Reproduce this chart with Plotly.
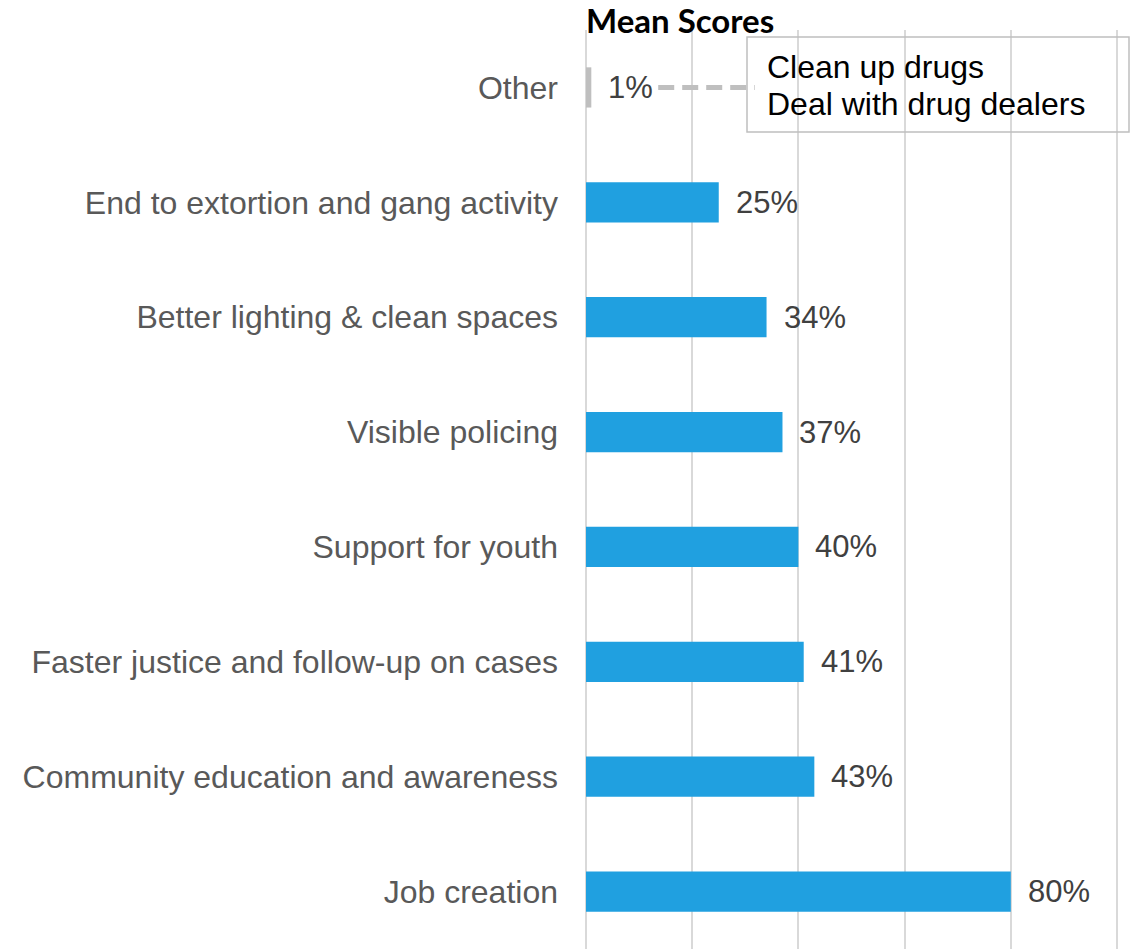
import plotly.graph_objects as go

categories = ["Other", "End to extortion and gang activity", "Better lighting & clean spaces",
              "Visible policing", "Support for youth", "Faster justice and follow-up on cases",
              "Community education and awareness", "Job creation"]
values = [1, 25, 34, 37, 40, 41, 43, 80]
bar_colors = ["#BFBFBF"] + ["#20A0E0"] * 7
other_note = ["Clean up drugs", "Deal with drug dealers"]
title_text = "Mean Scores"

W, H = 1133, 949
ML, MR, MT, MB = 586, 12, 30, 0
pw = W - ML - MR
ph = H - MT - MB

def px_x(p):
    return (p - ML) / pw

def px_y(p):
    return (H - MB - p) / ph

fig = go.Figure()
fig.add_trace(go.Bar(
    x=values, y=categories, orientation="h",
    marker=dict(color=bar_colors, line=dict(width=0)),
    width=0.35, hoverinfo="skip",
))

for v, c in zip(values, categories):
    fig.add_annotation(x=v, y=c, xref="x", yref="y", text=f"{v}%",
                       showarrow=False, xanchor="left", yanchor="middle", xshift=15,
                       font=dict(family="Liberation Sans, Arial", size=31, color="#404040"))

# connector from "Other" label to the note box
fig.add_shape(type="line", xref="x", yref="y", x0=13.6, x1=31.8, y0=categories[0], y1=categories[0],
              line=dict(color="#BFBFBF", width=5, dash="16px,8px"), layer="above")

# note box (transparent)
fig.add_shape(type="rect", xref="paper", yref="paper",
              x0=px_x(747), x1=px_x(1129), y0=px_y(132), y1=px_y(37),
              line=dict(color="#BFBFBF", width=1.5), fillcolor="rgba(0,0,0,0)", layer="above")
for line_text, cy in zip(other_note, [67, 104]):
    fig.add_annotation(xref="paper", yref="paper", x=px_x(767), y=px_y(cy),
                       text=line_text, showarrow=False, align="left",
                       xanchor="left", yanchor="middle", xshift=-2,
                       font=dict(family="Liberation Sans, Arial", size=32, color="#000000"))

fig.add_annotation(xref="paper", yref="paper", x=0, y=px_y(20), text=f"<b>{title_text}</b>",
                   showarrow=False, xanchor="left", yanchor="middle", xshift=-2,
                   font=dict(family="Lato, Carlito, Calibri", size=33, color="#000000"))

fig.update_layout(
    width=W, height=H,
    margin=dict(l=ML, r=MR, t=MT, b=MB, pad=0),
    paper_bgcolor="white", plot_bgcolor="white",
    showlegend=False,
    xaxis=dict(range=[0, 100.75], showticklabels=False, showgrid=True, gridcolor="#D9D9D9",
               gridwidth=2, dtick=20, tick0=0, zeroline=True, zerolinecolor="#D9D9D9",
               zerolinewidth=2, showline=False, ticks=""),
    yaxis=dict(autorange="reversed", showgrid=False, zeroline=False, showline=False, ticks="",
               ticklabelstandoff=27,
               tickfont=dict(family="Liberation Sans, Arial", size=32, color="#595959")),
)

fig.write_html("out.html")
